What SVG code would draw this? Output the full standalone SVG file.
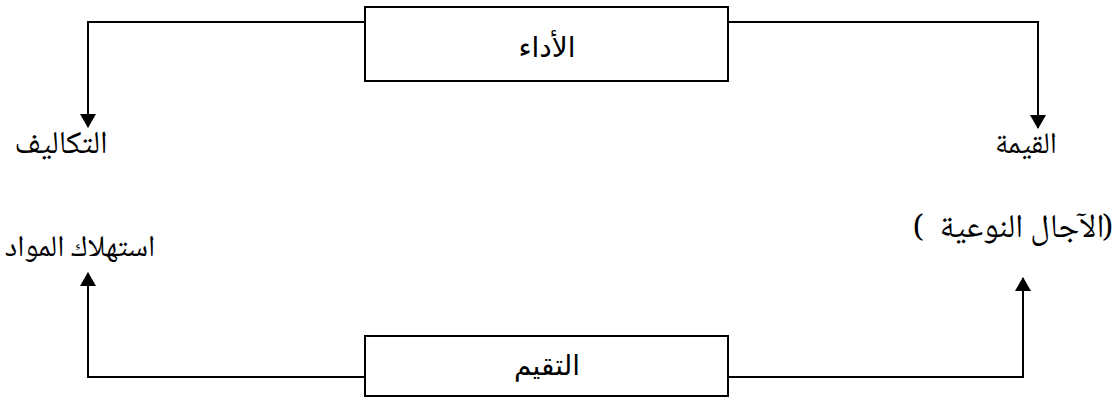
<svg xmlns="http://www.w3.org/2000/svg" width="1116" height="398" viewBox="0 0 1116 398">
<style>
.box{fill:#fff;stroke:#000;stroke-width:2}
.conn{fill:none;stroke:#000;stroke-width:2}
.lbl{font-family:"Noto Naskh Arabic","Amiri","DejaVu Sans",sans-serif;font-size:30px;fill:#000;text-anchor:middle}
.boxlbl{font-family:"DejaVu Sans",sans-serif;font-size:28px;fill:#000;text-anchor:middle}
</style>
<defs>
<marker id="arr" markerUnits="userSpaceOnUse" markerWidth="14" markerHeight="16" refX="13" refY="8" orient="auto">
<path d="M0,0 L14,8 L0,16 z" fill="#000"/>
</marker>
</defs>
<rect width="1116" height="398" fill="#fff"/>
<g id="connectors">
<path class="conn" d="M365,22 H88 V127" marker-end="url(#arr)"/>
<path class="conn" d="M728,22 H1038 V128" marker-end="url(#arr)"/>
<path class="conn" d="M365,377 H88 V273" marker-end="url(#arr)"/>
<path class="conn" d="M728,377 H1023 V278" marker-end="url(#arr)"/>
</g>
<g id="node-performance">
<rect class="box" x="365" y="7" width="363" height="74"/>
<text class="boxlbl" x="547" y="57">الأداء</text>
</g>
<g id="node-evaluation">
<rect class="box" x="365" y="336" width="363" height="60"/>
<text class="boxlbl" x="547" y="375">التقيم</text>
</g>
<g id="node-costs">
<text class="lbl" x="61" y="153" style="font-size:32px">التكاليف</text>
</g>
<g id="node-value">
<text class="lbl" x="1026" y="153">القيمة</text>
</g>
<g id="node-consumption">
<text class="lbl" x="80" y="256">استهلاك المواد</text>
</g>
<g id="node-quality">
<text class="lbl" x="913" y="237" direction="ltr" style="text-anchor:start">&#x200E;(</text>
<text class="lbl" x="1022" y="237" style="font-size:33px">الآجال النوعية</text>
<text class="lbl" x="1113" y="237" direction="ltr" style="text-anchor:end">&#x200E;)</text>
</g>
</svg>
